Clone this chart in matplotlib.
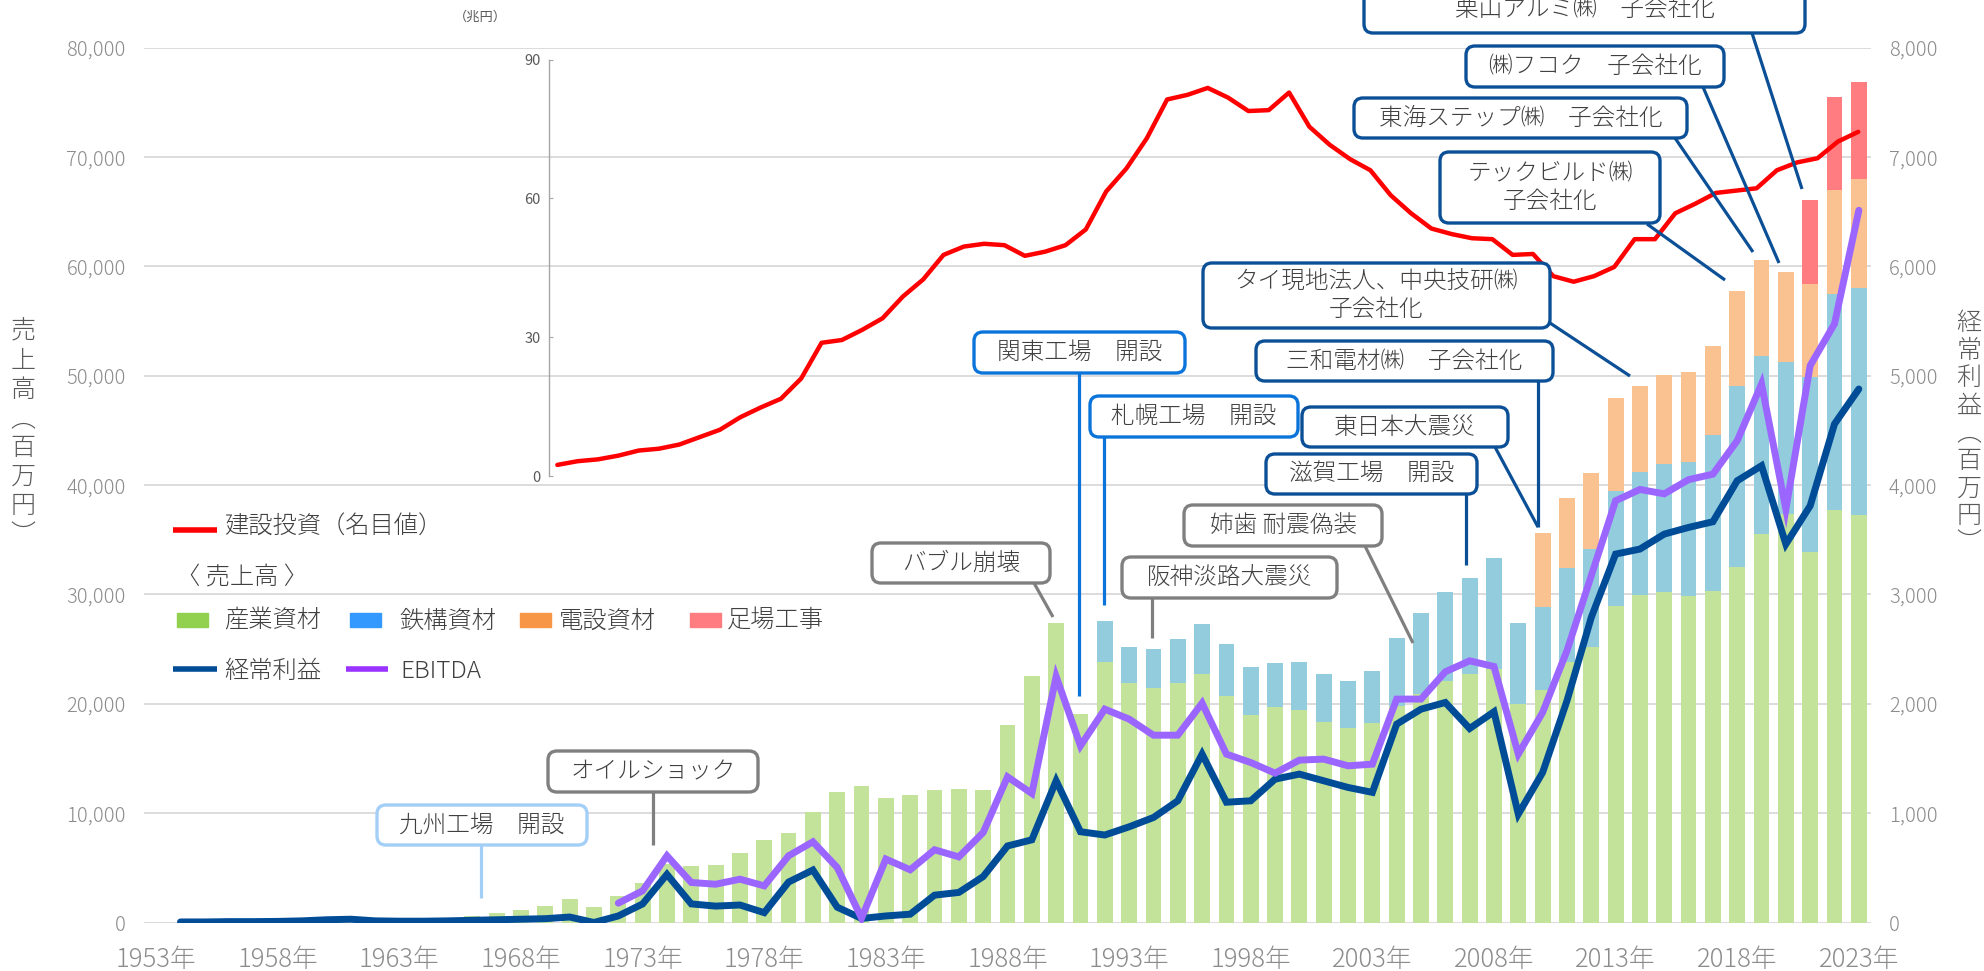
import numpy as np
import matplotlib
matplotlib.use("Agg")
import matplotlib.pyplot as plt
from matplotlib.patches import FancyBboxPatch, Rectangle
from matplotlib.lines import Line2D
from matplotlib.transforms import IdentityTransform

plt.rcParams['font.family'] = ['Noto Sans CJK JP', 'DejaVu Sans']
FW = 'light'

# ---------------- data ----------------
years = list(range(1953, 2024))

industrial = [0, 0, 0, 0, 0, 0, 0, 0, 0, 0, 0, 0, 0,
              550, 880, 1130, 1550, 2130, 1460, 2380, 3600, 5370, 5210,
              5270, 6400, 7530, 8140, 10150, 11950, 12500, 11370, 11680, 12130,
              12200, 12130, 18080, 22530, 27350, 19050, 23810, 21860, 21430, 21860,
              22710, 20670, 19020, 19730, 19420, 18380, 17770, 18200, 19800, 20880,
              22070, 22710, 23200, 19970, 21280, 23840, 25240, 28900, 29970, 30180,
              29880, 30270, 32470, 35520, 37350, 33900, 37710, 37260]

steel = [0] * 39 + [3750, 3350, 3570, 4050, 4580, 4790, 4360, 3990, 4390, 4300,
                    4330, 4760, 6210, 7410, 8170, 8780, 10090, 7410, 7590, 8540,
                    8910, 10600, 11250, 11740, 12260, 14310, 16630, 16270, 13890, 15960,
                    19790, 20790]

electrical = [0] * 57 + [6740, 6400, 6950, 8440, 7880, 8190, 8180, 8120, 8670, 8760,
                         8240, 8550, 9520, 9980]

scaffold = [0] * 68 + [7640, 8430, 8860]

ordinary_profit = [np.nan,
                   5, 5, 8, 8, 10, 15, 25, 30, 15, 12, 12, 15, 20, 25, 30, 35, 50, 0, 60, 170,
                   440, 170, 150, 160, 90, 370, 480, 140, 37, 60,
                   76, 250, 275, 420, 700, 756, 1296, 830, 800, 875,
                   960, 1113, 1540, 1100, 1113, 1311, 1357, 1296, 1235, 1190,
                   1814, 1951, 2012, 1774, 1927, 991, 1372, 2027, 2790, 3369,
                   3415, 3552, 3613, 3665, 4040, 4177, 3460, 3811, 4559, 4879]

ebitda = [np.nan] * 19 + [177, 290, 610, 366, 350, 396, 335, 610, 738, 503,
                          40, 580, 482, 665, 600, 823, 1332, 1180, 2250, 1616,
                          1951, 1860, 1713, 1713, 2006, 1540, 1463, 1366, 1485, 1494,
                          1433, 1448, 2043, 2043, 2293, 2393, 2341, 1540, 1921, 2485,
                          3171, 3857, 3960, 3920, 4050, 4100, 4406, 4925, 3780, 5093,
                          5475, 6513]

invest_years = list(range(1960, 2025))
construction_investment = [2.4, 3.2, 3.6, 4.4, 5.5, 5.9, 6.8, 8.4, 10.0, 12.7,
                           14.8, 16.7, 21.1, 28.8, 29.4, 31.6, 34.1, 38.8, 42.5, 47.8,
                           49.6, 50.2, 49.9, 47.6, 48.5, 49.9, 53.3, 61.5, 66.5, 73.0,
                           81.4, 82.4, 83.9, 81.8, 78.9, 79.1, 82.9, 75.5, 71.6, 68.5,
                           66.1, 60.7, 56.8, 53.5, 52.3, 51.4, 51.2, 47.8, 48.0, 43.2,
                           42.0, 43.2, 45.2, 51.2, 51.2, 56.8, 58.9, 61.2, 61.7, 62.2,
                           66.1, 67.8, 68.7, 72.3, 74.4]

left_ticks = [0, 10000, 20000, 30000, 40000, 50000, 60000, 70000, 80000]
right_ticks = [0, 1000, 2000, 3000, 4000, 5000, 6000, 7000, 8000]
inset_ticks = [0, 30, 60, 90]
xtick_years = list(range(1953, 2024, 5))

# ---------------- figure ----------------
W, H = 1984, 971
fig = plt.figure(figsize=(W / 100, H / 100), dpi=100)

def frac(x0, y0, x1, y1):
    return [x0 / W, 1 - y1 / H, (x1 - x0) / W, (y1 - y0) / H]

ax = fig.add_axes(frac(144, 47.7, 1871, 922.5))
x = np.arange(len(years))
bw = 0.65
c_green, c_blue, c_orange, c_pink = '#C3E39B', '#93CDDD', '#FAC191', '#FF7C80'
b1 = np.array(industrial, float)
b2 = np.array(steel, float)
b3 = np.array(electrical, float)
b4 = np.array(scaffold, float)
ax.bar(x, b1, bw, color=c_green, zorder=2)
ax.bar(x, b2, bw, bottom=b1, color=c_blue, zorder=2)
ax.bar(x, b3, bw, bottom=b1 + b2, color=c_orange, zorder=2)
ax.bar(x, b4, bw, bottom=b1 + b2 + b3, color=c_pink, zorder=2)

ax.set_xlim(-0.5, len(years) - 0.5)
ax.set_ylim(0, 80000)
ax.set_yticks(left_ticks)
ax.set_yticklabels([f"{v:,}" for v in left_ticks], color='#8C8C8C', fontsize=14.5, fontweight=FW)
ax.set_xticks([years.index(y) for y in xtick_years])
ax.set_xticklabels([f"{y}年" for y in xtick_years], color='#8C8C8C', fontsize=18.5, fontweight=FW)
ax.tick_params(axis='both', length=0)
ax.tick_params(axis='y', pad=13)
ax.tick_params(axis='x', pad=17)
ax.grid(axis='y', color='#D9D9D9', lw=1.3, zorder=0)
ax.set_axisbelow(True)
for s in ax.spines.values():
    s.set_visible(False)

ax2 = ax.twinx()
ax2.set_ylim(0, 8000)
ax2.set_yticks(right_ticks)
ax2.set_yticklabels([f"{v:,}" for v in right_ticks], color='#8C8C8C', fontsize=14.5, fontweight=FW)
ax2.tick_params(axis='y', length=0, pad=13)
for s in ax2.spines.values():
    s.set_visible(False)
ax2.plot(x, ordinary_profit, color='#004C97', lw=5, solid_joinstyle='miter', solid_capstyle='round', zorder=3)
ax2.plot(x, ebitda, color='#9B66FF', lw=5, solid_joinstyle='miter', solid_capstyle='round', zorder=4)

# inset: construction investment
axi = fig.add_axes(frac(549, 59.7, 1870, 476))
axi.patch.set_alpha(0)
xi = np.arange(len(invest_years))
axi.plot(xi, construction_investment, color='#FF0000', lw=3.2, solid_capstyle='round')
axi.set_xlim(-0.41, 64.58)
axi.set_ylim(0, 90)
axi.set_yticks(inset_ticks)
axi.set_yticklabels([str(v) for v in inset_ticks], fontsize=10.5, color='#595959')
axi.tick_params(axis='y', direction='in', length=3, color='#A6A6A6', pad=6)
axi.set_xticks([])
for k, s in axi.spines.items():
    s.set_visible(k == 'left')
axi.spines['left'].set_color('#A6A6A6')
axi.spines['left'].set_linewidth(1)
fig.text(480 / W, 1 - 17 / H, '（兆円）', fontsize=9.5, color='#595959', ha='center', va='center')

# axis titles (vertical, upright)
fig.text(23 / W, 1 - 433 / H, '\n'.join('売上高︵百万円︶'), fontsize=18, color='#595959',
         ha='center', va='center', linespacing=1.12, fontweight=FW)
fig.text(1969 / W, 1 - 433 / H, '\n'.join('経常利益︵百万円︶'), fontsize=18, color='#595959',
         ha='center', va='center', linespacing=1.05, fontweight=FW)

# ---------------- legend (manual) ----------------
T = IdentityTransform()
def line_px(x0, y0, x1, y1, color, lw, z=5):
    fig.add_artist(Line2D([x0, x1], [H - y0, H - y1], transform=T, color=color, lw=lw,
                          zorder=z, solid_capstyle='butt'))

def text_px(xp, yp, s, **kw):
    fig.text(xp / W, 1 - yp / H, s, **kw)

ltxt = dict(fontsize=17.5, color='#404040', va='center', ha='left', fontweight=FW)
line_px(173, 530, 217, 530, '#FF0000', 4)
text_px(224, 527, '建設投資（名目値）', **ltxt)
text_px(176, 578, '〈 売上高 〉', **ltxt)
for (x0, col, lab, tx) in [(177, '#92D050', '産業資材', 224), (350, '#3399FF', '鉄構資材', 399),
                           (520, '#F79646', '電設資材', 559), (690, '#FF7C80', '足場工事', 727)]:
    fig.add_artist(Rectangle((x0, H - 627), 31, 14, transform=T, color=col, zorder=5))
    text_px(tx, 621, lab, **ltxt)
line_px(173, 669, 217, 669, '#004C97', 4)
text_px(224, 671, '経常利益', **ltxt)
line_px(346, 669, 388, 669, '#9933FF', 4)
text_px(400, 671, 'EBITDA', **ltxt)

# ---------------- annotation call-outs ----------------
NAVY, BRIGHT, LIGHT, GREY = '#0B4F96', '#0A74DA', '#A3CFF7', '#7F7F7F'
callouts = [
    ('九州工場　開設', (377, 805, 587, 845), LIGHT, [(481, 845), (481, 898)]),
    ('オイルショック', (548, 751, 758, 792), GREY, [(653, 792), (653, 845)]),
    ('バブル崩壊', (872, 543, 1050, 583), GREY, [(1034, 583), (1053, 617)]),
    ('関東工場　開設', (974, 332, 1185, 373), BRIGHT, [(1079, 373), (1079, 696)]),
    ('札幌工場　開設', (1090, 396, 1298, 437), BRIGHT, [(1104, 437), (1104, 605)]),
    ('阪神淡路大震災', (1122, 557, 1337, 598), GREY, [(1152, 598), (1152, 638)]),
    ('姉歯 耐震偽装', (1184, 505, 1382, 546), GREY, [(1365, 546), (1413, 643)]),
    ('滋賀工場　開設', (1266, 454, 1477, 494), NAVY, [(1466, 494), (1466, 565)]),
    ('東日本大震災', (1302, 407, 1508, 447), NAVY, [(1495, 447), (1538, 527)]),
    ('三和電材㈱　子会社化', (1256, 341, 1553, 381), NAVY, [(1538, 381), (1538, 527)]),
    ('タイ現地法人、中央技研㈱\n子会社化', (1203, 263, 1550, 328), NAVY, [(1550, 323), (1630, 376)]),
    ('テックビルド㈱\n子会社化', (1440, 152, 1660, 223), NAVY, [(1647, 224), (1725, 280)]),
    ('東海ステップ㈱　子会社化', (1354, 98, 1687, 138), NAVY, [(1675, 138), (1753, 252)]),
    ('㈱フコク　子会社化', (1466, 46, 1724, 87), NAVY, [(1703, 87), (1779, 263)]),
    ('栗山アルミ㈱　子会社化', (1364, -15, 1805, 33), NAVY, [(1752, 33), (1802, 189)]),
]
for txt, (x0, y0, x1, y1), col, pts in callouts:
    (lx0, ly0), (lx1, ly1) = pts
    fig.add_artist(Line2D([lx0, lx1], [H - ly0, H - ly1], transform=T, color=col, lw=2.3,
                          zorder=6, solid_capstyle='butt'))
    fig.add_artist(FancyBboxPatch((x0, H - y1), x1 - x0, y1 - y0,
                                  boxstyle='round,pad=0,rounding_size=9', transform=T,
                                  fc='white', ec=col, lw=2.4, zorder=7))
    t = fig.text((x0 + x1) / 2 / W, 1 - (y0 + y1) / 2 / H, txt, fontsize=17, color='#404040',
                 ha='center', va='center', zorder=8, linespacing=1.15, fontweight=FW)

fig.savefig('out.png', dpi=100)
